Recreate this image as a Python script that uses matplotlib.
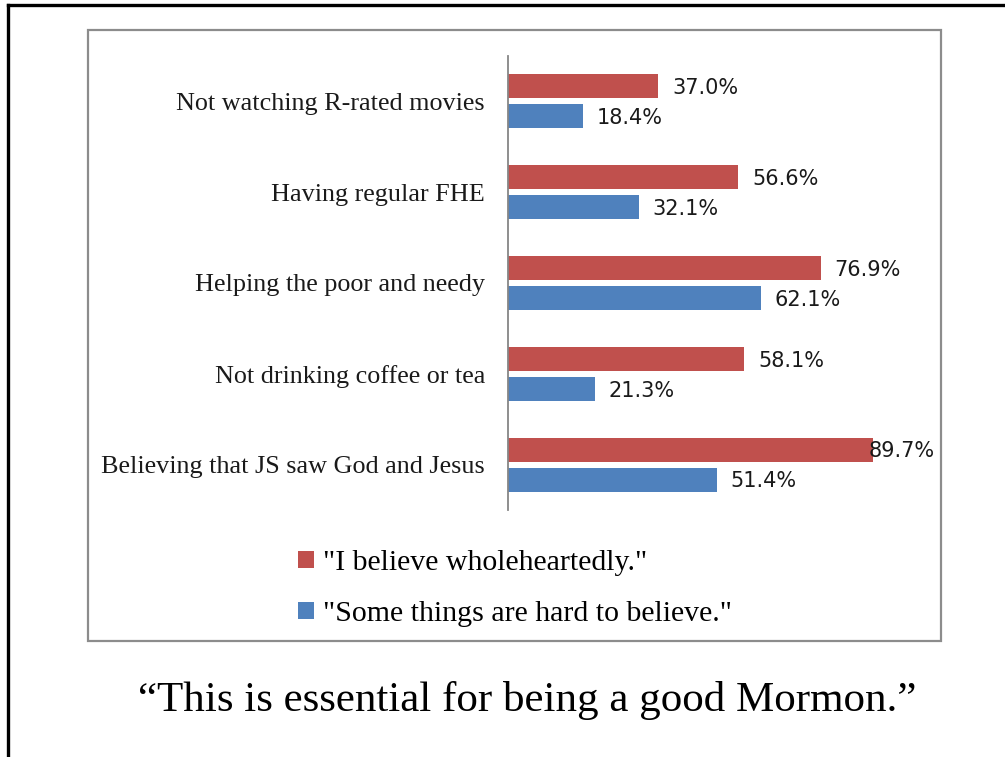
import matplotlib
matplotlib.use('Agg')
import matplotlib.pyplot as plt
from matplotlib.patches import Rectangle
from matplotlib.lines import Line2D

categories = [
    'Not watching R-rated movies',
    'Having regular FHE',
    'Helping the poor and needy',
    'Not drinking coffee or tea',
    'Believing that JS saw God and Jesus',
]
wholehearted = [37.0, 56.6, 76.9, 58.1, 89.7]
hard_to_believe = [18.4, 32.1, 62.1, 21.3, 51.4]
series_labels = ['"I believe wholeheartedly."', '"Some things are hard to believe."']
title = '\u201cThis is essential for being a good Mormon.\u201d'

RED = '#C0504D'
BLUE = '#4F81BD'
W, H = 1005, 757

fig = plt.figure(figsize=(W / 100, H / 100), dpi=100)

def fx(px):
    return px / W

def fy(py):
    return 1 - py / H

# outer black frame (top and left only)
fig.add_artist(Line2D([fx(8), 1.0], [fy(5), fy(5)], color='black', lw=2.4))
fig.add_artist(Line2D([fx(8), fx(8)], [fy(5), 0.0], color='black', lw=2.4))
# gray chart box
fig.add_artist(Rectangle((fx(88), fy(641)), fx(941) - fx(88), fy(30) - fy(641),
                         fill=False, edgecolor='#8C8C8C', lw=1.6))

ax = fig.add_axes((fx(508), fy(510), fx(935) - fx(508), fy(56) - fy(510)))
xmax = 105
ax.set_xlim(0, xmax)
ax.set_ylim(len(categories) - 0.5, -0.5)

pos = list(range(len(categories)))
off = 0.165
h = 0.264
b1 = ax.barh([p - off for p in pos], wholehearted, height=h, color=RED, label=series_labels[0])
b2 = ax.barh([p + off for p in pos], hard_to_believe, height=h, color=BLUE, label=series_labels[1])

for bars, vals in ((b1, wholehearted), (b2, hard_to_believe)):
    for rect, v in zip(bars, vals):
        y = rect.get_y() + rect.get_height() / 2 + 0.02
        if v + 22 > xmax:
            ax.text(xmax, y, '{:.1f}%'.format(v), ha='right', va='center',
                    fontsize=15, family='DejaVu Sans', color='#1a1a1a')
        else:
            ax.text(v + 3.4, y, '{:.1f}%'.format(v), ha='left', va='center',
                    fontsize=15, family='DejaVu Sans', color='#1a1a1a')

ax.set_yticks(pos)
ax.set_yticklabels(categories, fontsize=18.8, family='Liberation Serif', color='#1a1a1a')
ax.tick_params(axis='y', length=0, pad=16.5)
ax.set_xticks([])
for s in ('top', 'right', 'bottom'):
    ax.spines[s].set_visible(False)
ax.spines['left'].set_color('#868686')
ax.spines['left'].set_linewidth(1.3)

leg = fig.legend(handles=[b1, b2], loc='upper left', bbox_to_anchor=(fx(283), fy(535)),
                 frameon=False, prop={'family': 'Liberation Serif', 'size': 21.5},
                 handlelength=0.53, handleheight=0.53, handletextpad=0.3,
                 labelspacing=0.84, borderpad=0)

fig.text(0.525, fy(701), title, ha='center', va='center', fontsize=31,
         family='Liberation Serif', color='black')

plt.savefig('out.png', dpi=100)
